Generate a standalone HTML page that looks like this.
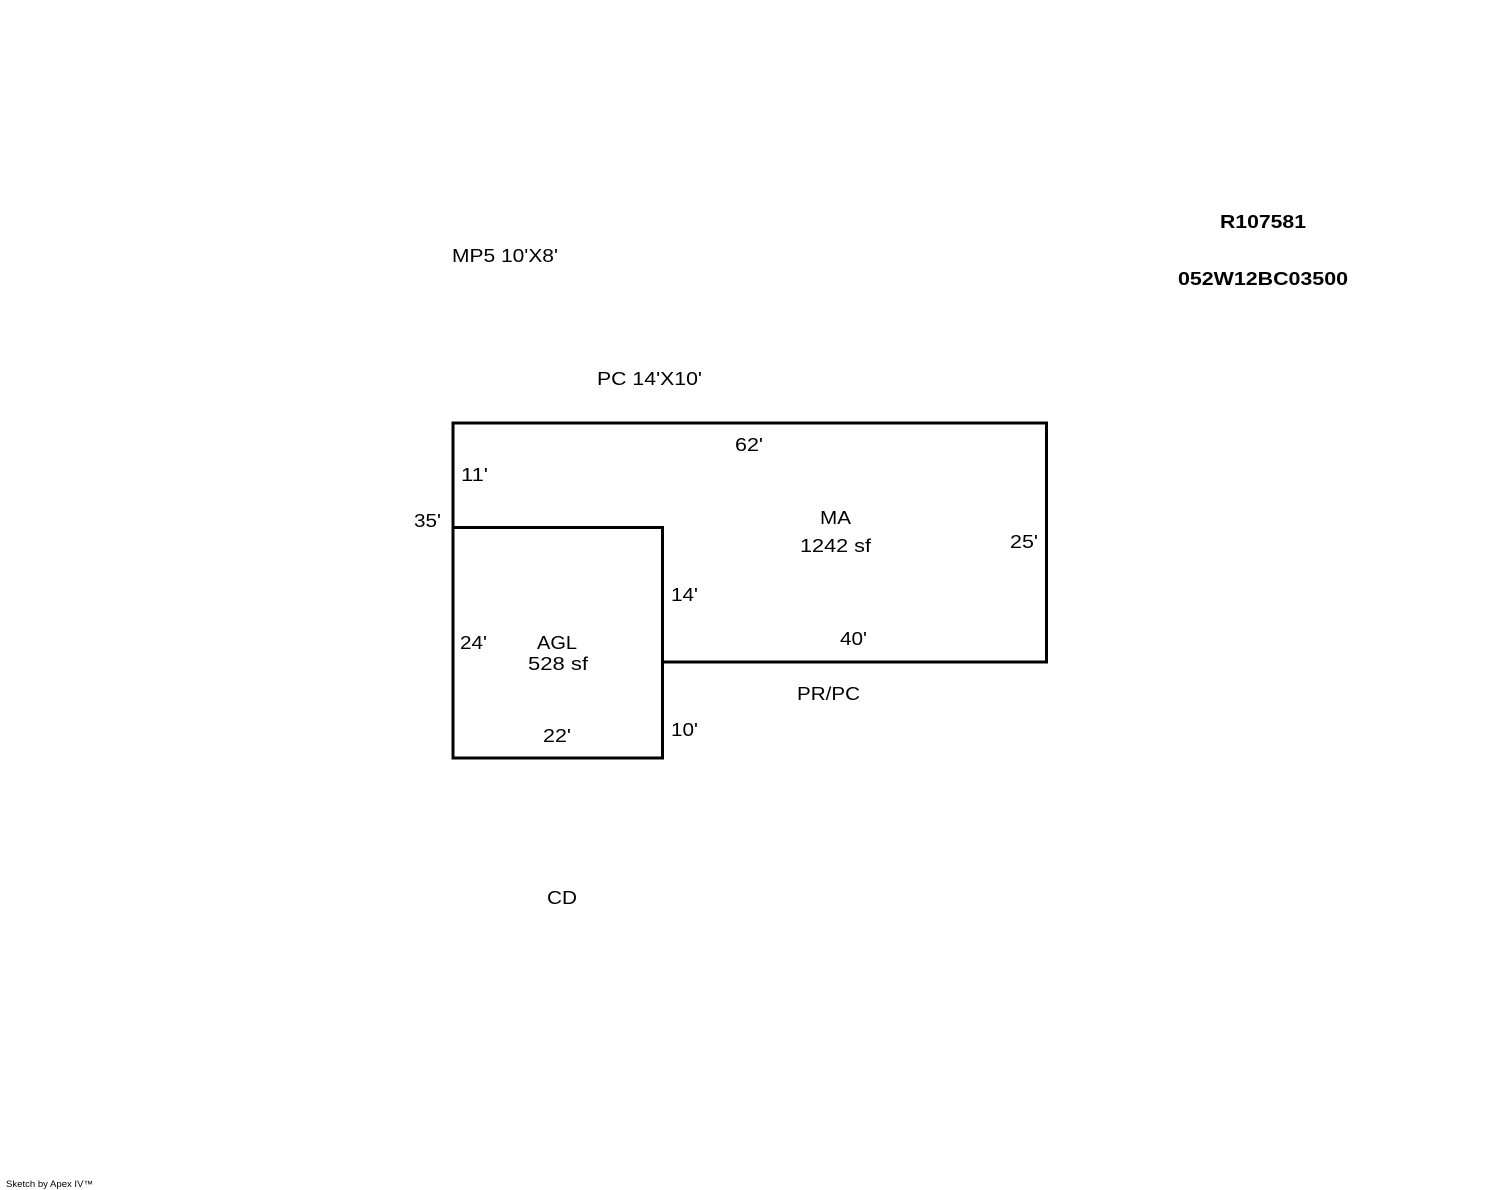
<!DOCTYPE html>
<html><head><meta charset="utf-8"><style>
html,body{margin:0;padding:0;background:#fff;}
svg{display:block}
text{font-family:"Liberation Sans",Arial,sans-serif;font-size:18px;fill:#000}
</style></head><body>
<svg width="1488" height="1190" viewBox="0 0 1488 1190" xmlns="http://www.w3.org/2000/svg">
<g fill="none" stroke="#000" stroke-width="3" stroke-linecap="square">
<polyline points="453,527.5 453,423 1046.5,423 1046.5,662 662.5,662"/>
<rect x="453" y="527.5" width="209.5" height="230.5"/>
</g>
<g lengthAdjust="spacingAndGlyphs">
<text x="1220" y="228" font-weight="bold" textLength="86" lengthAdjust="spacingAndGlyphs">R107581</text>
<text x="1178" y="285" font-weight="bold" textLength="170" lengthAdjust="spacingAndGlyphs">052W12BC03500</text>
<text x="452" y="262" textLength="106" lengthAdjust="spacingAndGlyphs">MP5 10'X8'</text>
<text x="597" y="385" textLength="105" lengthAdjust="spacingAndGlyphs">PC 14'X10'</text>
<text x="735" y="451" textLength="28" lengthAdjust="spacingAndGlyphs">62'</text>
<text x="461" y="481" textLength="27" lengthAdjust="spacingAndGlyphs">11'</text>
<text x="414" y="527" textLength="27" lengthAdjust="spacingAndGlyphs">35'</text>
<text x="820" y="524" textLength="31" lengthAdjust="spacingAndGlyphs">MA</text>
<text x="800" y="552" textLength="71" lengthAdjust="spacingAndGlyphs">1242 sf</text>
<text x="1010" y="548" textLength="28" lengthAdjust="spacingAndGlyphs">25'</text>
<text x="671" y="601" textLength="27" lengthAdjust="spacingAndGlyphs">14'</text>
<text x="840" y="645" textLength="27" lengthAdjust="spacingAndGlyphs">40'</text>
<text x="460" y="649" textLength="27" lengthAdjust="spacingAndGlyphs">24'</text>
<text x="537" y="649" textLength="40" lengthAdjust="spacingAndGlyphs">AGL</text>
<text x="528" y="670" textLength="60" lengthAdjust="spacingAndGlyphs">528 sf</text>
<text x="797" y="700" textLength="63" lengthAdjust="spacingAndGlyphs">PR/PC</text>
<text x="671" y="736" textLength="27" lengthAdjust="spacingAndGlyphs">10'</text>
<text x="543" y="742" textLength="28" lengthAdjust="spacingAndGlyphs">22'</text>
<text x="547" y="904" textLength="30" lengthAdjust="spacingAndGlyphs">CD</text>
<text x="6" y="1187" style="font-size:9px" textLength="87" lengthAdjust="spacingAndGlyphs">Sketch by Apex IV™</text>
</g>
</svg>
</body></html>
